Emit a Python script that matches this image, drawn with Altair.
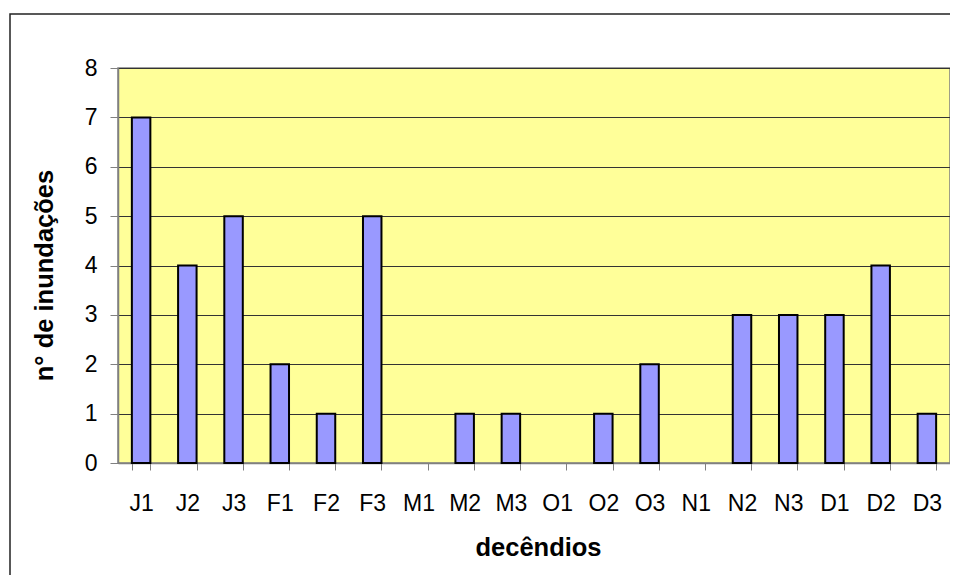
import altair as alt
import pandas as pd

categories = ["J1", "J2", "J3", "F1", "F2", "F3", "M1", "M2", "M3",
              "O1", "O2", "O3", "N1", "N2", "N3", "D1", "D2", "D3"]
values = [7, 4, 5, 2, 1, 5, 0, 1, 1, 0, 1, 2, 0, 3, 3, 3, 4, 1]
y_ticks = [0, 1, 2, 3, 4, 5, 6, 7, 8]

df = pd.DataFrame({"decendio": categories, "n": values})

FONT = "Liberation Sans"

frame = alt.Chart(pd.DataFrame({"a": [0]})).mark_rect(
    filled=False, stroke="#222222", strokeWidth=1.5
).encode(
    x=alt.value(-108), x2=alt.value(2000),
    y=alt.value(-54), y2=alt.value(2000)
)

bars = alt.Chart(df).transform_filter("datum.n > 0").mark_bar(
    color="#9999FF", stroke="black", strokeWidth=2
).encode(
    x=alt.X("decendio:N", sort=categories, title="decêndios",
            scale=alt.Scale(domain=categories, paddingInner=0.6, paddingOuter=0.3),
            axis=alt.Axis(labelAngle=0, tickBand="extent", grid=False,
                          tickSize=7, tickColor="#808080", domainColor="#808080",
                          domainWidth=1.5, labelFont=FONT, labelFontSize=23,
                          labelColor="black", labelBaseline="alphabetic",
                          labelPadding=40, titleFont=FONT, titleFontSize=25.5,
                          titleFontWeight="bold", titleColor="black",
                          titleBaseline="alphabetic", titleY=92, titleX=420)),
    y=alt.Y("n:Q", title="n° de inundações",
            scale=alt.Scale(domain=[0, 8], nice=False),
            axis=alt.Axis(values=y_ticks, grid=True, gridColor="#333333",
                          gridWidth=1, tickSize=8, tickColor="#808080",
                          domainColor="#808080", domainWidth=1.5,
                          labelFont=FONT, labelFontSize=23, labelColor="black",
                          labelPadding=13, titleFont=FONT, titleFontSize=25.5,
                          titleFontWeight="bold", titleColor="black",
                          titleAngle=270, titleBaseline="alphabetic",
                          titleX=-66, titleY=207, titleAlign="center"))
)

chart = alt.layer(frame, bars).properties(
    width=832, height=395,
    padding={"left": 110, "top": 60, "right": 0, "bottom": 112},
    autosize=alt.AutoSizeParams(type="none"),
    background="white"
).configure_view(
    fill="#FFFF99", stroke="#808080", strokeWidth=1.5
)

chart.save("out.html", embed_options={"renderer": "svg", "actions": False})
